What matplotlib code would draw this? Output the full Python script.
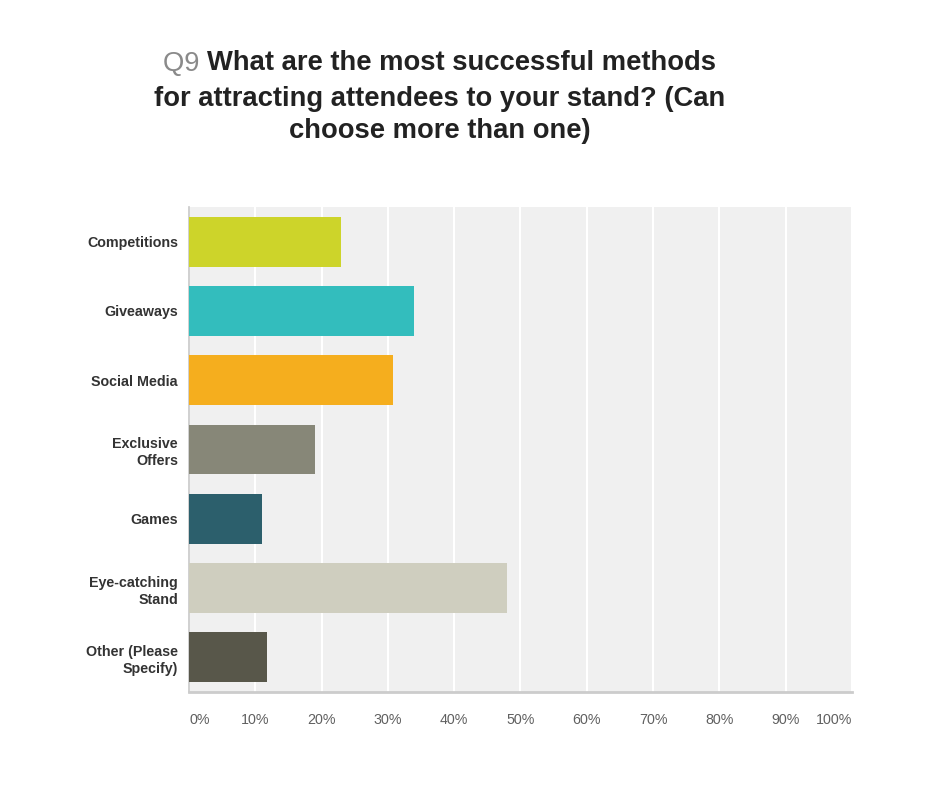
import numpy as np
import matplotlib.pyplot as plt

categories = ['Competitions', 'Giveaways', 'Social Media', 'Exclusive\nOffers',
              'Games', 'Eye-catching\nStand', 'Other (Please\nSpecify)']
values = [22.9, 33.9, 30.8, 19.0, 11.0, 48.0, 11.8]
colors = ['#cdd42a', '#33bdbd', '#f5ae1e', '#878778', '#2c5f6c', '#cfcebf', '#58574a']
xticks = [0, 10, 20, 30, 40, 50, 60, 70, 80, 90, 100]
xticklabels = [f'{t}%' for t in xticks]

plt.rcParams['font.family'] = ['Liberation Sans', 'DejaVu Sans']

fig = plt.figure(figsize=(9.45, 7.88), dpi=100)
W, H = 945, 788
ax = fig.add_axes([189 / W, 1 - 692 / H, (852 - 189) / W, (692 - 207) / H])
ax.set_facecolor('#f0f0f0')

y = np.arange(len(categories))
ax.barh(y, values, height=0.72, color=colors, zorder=3)
ax.set_ylim(len(categories) - 0.5, -0.5)
ax.set_xlim(0, 100)

ax.set_xticks(xticks)
ax.set_xticklabels(xticklabels, fontsize=10.3, color='#606060')
labs = ax.get_xticklabels()
labs[0].set_ha('left')
labs[-1].set_ha('right')
ax.tick_params(axis='x', length=0, pad=15)

ax.set_yticks(y)
ax.set_yticklabels(categories, fontsize=10.3, fontweight='bold', color='#333333',
                   linespacing=1.3)
ax.tick_params(axis='y', length=0, pad=8)

ax.grid(axis='x', color='white', lw=1.5, zorder=1)
for s in ['top', 'right']:
    ax.spines[s].set_visible(False)
ax.spines['left'].set_color('#c8c8c8')
ax.spines['left'].set_linewidth(1.2)
ax.spines['bottom'].set_color('#cccccc')
ax.spines['bottom'].set_linewidth(2)

# title
tfs = 19.7
q9 = fig.text(163 / W, 1 - 63.5 / H, 'Q9 ', fontsize=tfs, color='#8a8a8a', va='center', ha='left')
ax.annotate('What are the most successful methods', xy=(1, 0.5), xycoords=q9,
            va='center', ha='left', fontsize=tfs, color='#222222', fontweight='bold')
fig.text(440 / W, 1 - 98.5 / H, 'for attracting attendees to your stand? (Can',
         fontsize=tfs, color='#222222', fontweight='bold', ha='center', va='center')
fig.text(440 / W, 1 - 131.5 / H, 'choose more than one)',
         fontsize=tfs, color='#222222', fontweight='bold', ha='center', va='center')

plt.savefig('out.png', dpi=100)
